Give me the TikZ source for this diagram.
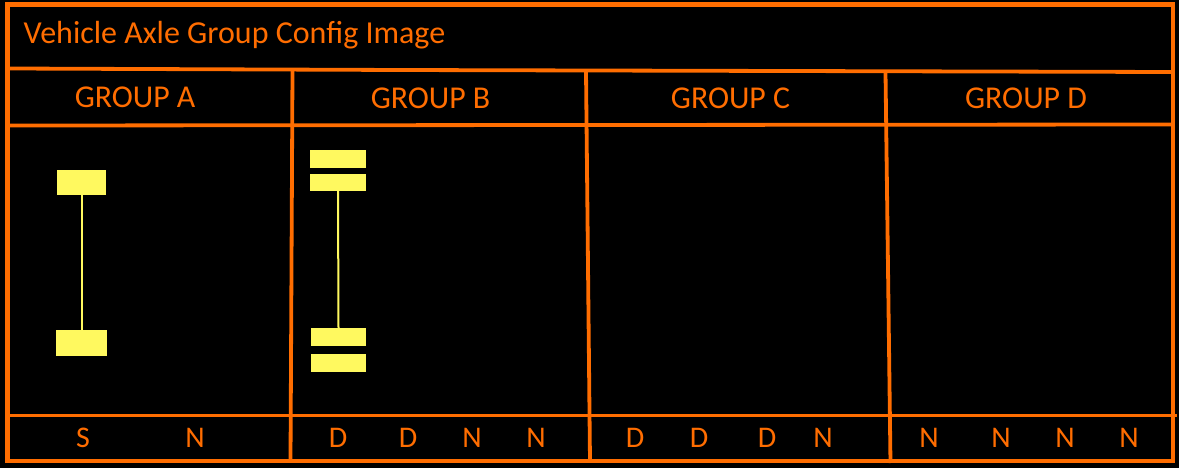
\documentclass[tikz,border=0pt]{standalone}
\usepackage{fontspec}
\setmainfont{Carlito}
\definecolor{org}{HTML}{FF6D00}
\definecolor{yel}{HTML}{FFF95F}
\tikzset{
  x=1pt,y=-1pt,
  frameline/.style={draw=org,line width=4.2pt,line cap=butt,miter limit=10},
  rule/.style={draw=org,line width=3.8pt},
  title/.style={text=org,font=\fontsize{32}{32}\selectfont,anchor=base west,inner sep=0pt},
  head/.style={text=org,font=\fontsize{31.8}{32}\selectfont,anchor=base,inner sep=0pt},
  code/.style={text=org,font=\fontsize{30}{30}\selectfont,anchor=base,inner sep=0pt},
  wheel/.style={fill=yel,draw=none,inner sep=0pt,minimum width=#1},
  axle/.style={draw=yel,line width=2pt},
}
\begin{document}
\begin{tikzpicture}
\useasboundingbox[fill=black] (0,0) rectangle (1179,468);
% frame
\draw[frameline] (7.5,4.5) rectangle (1173,461);
% horizontal rules
\draw[rule] (10,68.5) -- (400,70) -- (1173,72);
\draw[rule] (10,125.5) -- (1173,124.5);
\draw[rule] (7,415.5) -- (1177,415.5);
% vertical rules
\draw[rule] (292.5,70) -- (290.5,461);
\draw[rule] (586,71) -- (590,461);
\draw[rule] (885.5,72) -- (890.5,463);
% texts
\node[title] (t) at (23.5,43.5) {Vehicle Axle Group Config Image};
\node[head] (ga) at (135,108) {GROUP A};
\node[head] (gb) at (430.5,109) {GROUP B};
\node[head] (gc) at (730.5,109) {GROUP C};
\node[head] (gd) at (1026,109) {GROUP D};
\node[code] (a1) at (83,447) {S};
\node[code] (a2) at (195,447) {N};
\node[code] (b1) at (338,447) {D};
\node[code] (b2) at (408,447) {D};
\node[code] (b3) at (472,447) {N};
\node[code] (b4) at (536,447) {N};
\node[code] (c1) at (635,447) {D};
\node[code] (c2) at (699,447) {D};
\node[code] (c3) at (767,447) {D};
\node[code] (c4) at (823,447) {N};
\node[code] (d1) at (929,447) {N};
\node[code] (d2) at (1001,447) {N};
\node[code] (d3) at (1065,447) {N};
\node[code] (d4) at (1129,447) {N};
% wheels
\node[wheel=49pt,minimum height=25pt] (wa1) at (81.5,182.5) {};
\node[wheel=51pt,minimum height=26pt] (wa2) at (81.5,343) {};
\node[wheel=56pt,minimum height=18pt] (wb1) at (338,159) {};
\node[wheel=56pt,minimum height=17pt] (wb2) at (338,182.5) {};
\node[wheel=55pt,minimum height=18pt] (wb3) at (338.5,337) {};
\node[wheel=55pt,minimum height=18pt] (wb4) at (338.5,363) {};
% axles
\draw[axle] (wa1.south) -- (wa2.north);
\draw[axle] (wb2.south) -- (wb3.north);
\end{tikzpicture}
\end{document}
